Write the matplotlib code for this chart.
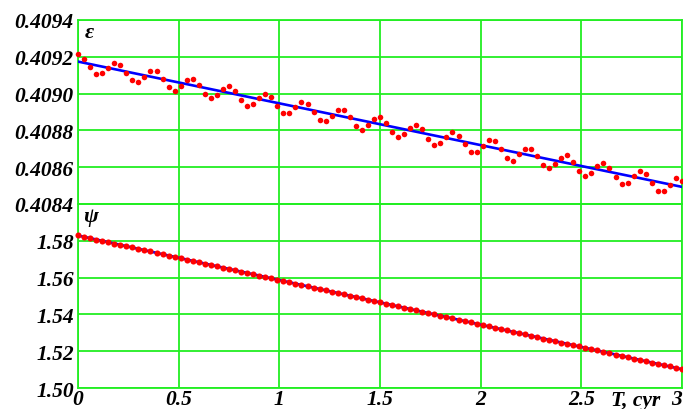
import matplotlib
matplotlib.use("Agg")
import matplotlib.pyplot as plt
import matplotlib.transforms as mtransforms
import numpy as np

# time axis, centuries (101 samples, 0 .. 3)
T = np.linspace(0.0, 3.0, 101)

eps = [
    0.4092127, 0.4091891, 0.4091455, 0.4091091, 0.4091127, 0.4091400, 0.4091673,
    0.4091564, 0.4091127, 0.4090764, 0.4090655, 0.4090909, 0.4091255, 0.4091255,
    0.4090800, 0.4090382, 0.4090164, 0.4090436, 0.4090764, 0.4090800, 0.4090491,
    0.4090000, 0.4089764, 0.4089945, 0.4090255, 0.4090436, 0.4090164, 0.4089673,
    0.4089345, 0.4089455, 0.4089764, 0.4090000, 0.4089836, 0.4089345, 0.4088964,
    0.4088964, 0.4089273, 0.4089564, 0.4089455, 0.4089018, 0.4088582, 0.4088527,
    0.4088800, 0.4089127, 0.4089127, 0.4088727, 0.4088255, 0.4088036, 0.4088309,
    0.4088636, 0.4088745, 0.4088400, 0.4087927, 0.4087655, 0.4087818, 0.4088145,
    0.4088309, 0.4088073, 0.4087545, 0.4087218, 0.4087327, 0.4087655, 0.4087927,
    0.4087709, 0.4087273, 0.4086836, 0.4086836, 0.4087164, 0.4087455, 0.4087400,
    0.4086964, 0.4086473, 0.4086364, 0.4086691, 0.4087000, 0.4087000, 0.4086618,
    0.4086127, 0.4085982, 0.4086200, 0.4086509, 0.4086636, 0.4086291, 0.4085818,
    0.4085545, 0.4085709, 0.4086091, 0.4086236, 0.4085982, 0.4085491, 0.4085109,
    0.4085164, 0.4085545, 0.4085818, 0.4085655, 0.4085164, 0.4084727, 0.4084727,
    0.4085055, 0.4085400, 0.4085273,
]

psi = [
    1.5829, 1.5822, 1.5814, 1.5807, 1.5800, 1.5793, 1.5785, 1.5778, 1.5771, 1.5764,
    1.5756, 1.5749, 1.5742, 1.5734, 1.5727, 1.5720, 1.5713, 1.5705, 1.5698, 1.5691,
    1.5684, 1.5676, 1.5669, 1.5662, 1.5654, 1.5647, 1.5640, 1.5633, 1.5625, 1.5618,
    1.5611, 1.5604, 1.5596, 1.5589, 1.5582, 1.5575, 1.5567, 1.5560, 1.5553, 1.5545,
    1.5538, 1.5531, 1.5524, 1.5516, 1.5509, 1.5502, 1.5495, 1.5487, 1.5480, 1.5473,
    1.5466, 1.5458, 1.5451, 1.5444, 1.5436, 1.5429, 1.5422, 1.5415, 1.5407, 1.5400,
    1.5393, 1.5386, 1.5378, 1.5371, 1.5364, 1.5357, 1.5349, 1.5342, 1.5335, 1.5327,
    1.5320, 1.5313, 1.5306, 1.5298, 1.5291, 1.5284, 1.5277, 1.5269, 1.5262, 1.5255,
    1.5247, 1.5240, 1.5233, 1.5226, 1.5218, 1.5211, 1.5204, 1.5197, 1.5189, 1.5182,
    1.5175, 1.5168, 1.5160, 1.5153, 1.5146, 1.5138, 1.5131, 1.5124, 1.5117, 1.5109,
    1.5102,
]

# linear trends (end points)
fit_T = [0.0, 3.0]
eps_fit = [0.409174, 0.408493]
psi_fit = [1.5829, 1.5102]

x_ticks = [0, 0.5, 1, 1.5, 2, 2.5, 3]
x_labels = ["0", "0.5", "1", "1.5", "2", "2.5", "3"]
eps_ticks = [0.4084, 0.4086, 0.4088, 0.4090, 0.4092, 0.4094]
eps_labels = ["0.4084", "0.4086", "0.4088", "0.4090", "0.4092", "0.4094"]
psi_ticks = [1.50, 1.52, 1.54, 1.56, 1.58, 1.60]
psi_labels = ["1.50", "1.52", "1.54", "1.56", "1.58", ""]

GREEN = "#22ee22"
font = dict(family="Liberation Serif", weight="bold", style="italic", size=15.5)

fig = plt.figure(figsize=(6.83, 4.10), dpi=100)
ax1 = fig.add_axes([0.1142, 0.5, 0.8843, 0.4488])
ax2 = fig.add_axes([0.1142, 0.0512, 0.8843, 0.4488])

for ax in (ax1, ax2):
    ax.set_xlim(0, 3)
    ax.set_xticks(x_ticks)
    ax.grid(True, color=GREEN, linewidth=1.3)
    ax.set_axisbelow(True)
    for s in ax.spines.values():
        s.set_color(GREEN)
        s.set_linewidth(1.3)
    ax.tick_params(length=0, pad=3)

# epsilon panel
ax1.plot(fit_T, eps_fit, color="blue", linewidth=1.9, zorder=3)
ax1.plot(T, eps, "o", color="red", markersize=4.0, markeredgewidth=0, zorder=4,
         clip_on=False)
ax1.set_ylim(0.4084, 0.4094)
ax1.set_yticks(eps_ticks)
ax1.set_yticklabels(eps_labels, fontdict=font)
ax1.set_xticklabels([])
ax1.text(0.018, 0.935, "ε", transform=ax1.transAxes, ha="center", va="center",
         fontdict=dict(font, size=16))

# psi panel
ax2.plot(fit_T, psi_fit, color="blue", linewidth=1.9, zorder=3)
ax2.plot(T, psi, "o", color="red", markersize=4.4, markeredgewidth=0, zorder=4,
         clip_on=False)
ax2.set_ylim(1.50, 1.60)
ax2.set_yticks(psi_ticks)
ax2.set_yticklabels(psi_labels, fontdict=font)
ax2.set_xticklabels(x_labels, fontdict=font)
ax2.get_xticklabels()[-1].set_horizontalalignment("right")
ax2.tick_params(axis="x", pad=1)
ax2.text(0.02, 0.935, "ψ", transform=ax2.transAxes, ha="center", va="center",
         fontdict=dict(font, size=16))

trans = mtransforms.blended_transform_factory(ax2.transData, ax2.transAxes)
ax2.text(2.77, -0.012, "T, cyr", transform=trans, ha="center", va="top",
         fontdict=font)

fig.savefig("out.png", dpi=100)
